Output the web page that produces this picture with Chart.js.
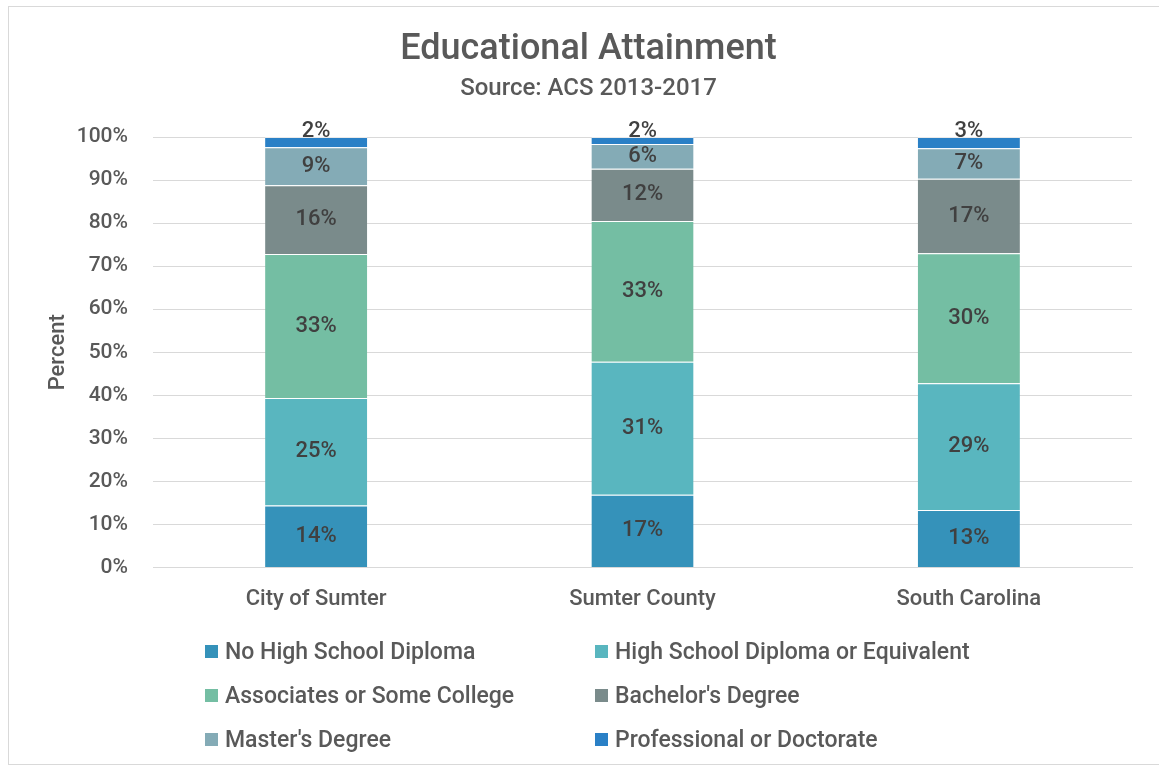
<!DOCTYPE html>
<html>
<head>
<meta charset="utf-8">
<script src="https://cdn.jsdelivr.net/npm/chart.js@4"></script>
<style>
  html, body { margin: 0; padding: 0; background: #fff; }
  #wrap { position: relative; width: 1159px; height: 770px; }
  #frame { position: absolute; left: 8px; top: 6px; width: 1160px; height: 759px; border: 1px solid #d9d9d9; box-sizing: border-box; pointer-events: none; }
  canvas { position: absolute; left: 0; top: 0; }
  #legend { position: absolute; left: 205px; top: 636px; font-family: Roboto, "Noto Sans", sans-serif; font-size: 23px; font-weight: 500; color: #595959; }
  .li { position: absolute; white-space: nowrap; display: flex; align-items: center; height: 30px; }
  .sw { width: 13px; height: 13px; margin-right: 7px; display: inline-block; }
</style>
</head>
<body>
<div id="wrap">
  <canvas id="c" width="1159" height="770"></canvas>
  <div id="frame"></div>
  <div id="legend"></div>
</div>
<script>
const categories = ["City of Sumter", "Sumter County", "South Carolina"];
const seriesNames = ["No High School Diploma", "High School Diploma or Equivalent", "Associates or Some College", "Bachelor's Degree", "Master's Degree", "Professional or Doctorate"];
const noHighSchool = [14.4, 16.9, 13.4];
const highSchool = [25.0, 30.9, 29.4];
const associates = [33.4, 32.7, 30.2];
const bachelors = [16.0, 12.1, 17.3];
const masters = [8.8, 5.8, 7.1];
const professional = [2.4, 1.6, 2.6];
const yTicks = [0, 10, 20, 30, 40, 50, 60, 70, 80, 90, 100];
const colors = ["#3592BA", "#59B6BF", "#74BEA3", "#7A8B8B", "#84ABB6", "#2A80C6"];

const seriesData = [noHighSchool, highSchool, associates, bachelors, masters, professional];
const FONT = 'Roboto, "Noto Sans", sans-serif';
const TXT = '#595959';

const labelPlugin = {
  id: 'segLabels',
  afterDatasetsDraw(chart) {
    const ctx = chart.ctx;
    ctx.save();
    ctx.font = '500 22px ' + FONT;
    ctx.fillStyle = '#404040';
    ctx.textAlign = 'center';
    ctx.textBaseline = 'middle';
    const last = chart.data.datasets.length - 1;
    chart.data.datasets.forEach((ds, di) => {
      const meta = chart.getDatasetMeta(di);
      meta.data.forEach((bar, i) => {
        const v = ds.data[i];
        const txt = Math.round(v) + '%';
        let y = (bar.y + bar.base) / 2;
        if (di === last) y = bar.y - 6;
        ctx.fillText(txt, bar.x, y);
      });
    });
    ctx.restore();
  }
};

const chart = new Chart(document.getElementById('c'), {
  type: 'bar',
  data: {
    labels: categories,
    datasets: seriesData.map((d, i) => ({
      label: seriesNames[i],
      data: d,
      backgroundColor: colors[i],
      borderColor: 'rgba(255,255,255,0.45)',
      borderWidth: { top: 1, bottom: 0, left: 0, right: 0 },
      borderSkipped: false,
      categoryPercentage: 1.0,
      barPercentage: 0.313
    }))
  },
  options: {
    responsive: false,
    animation: false,
    devicePixelRatio: 1,
    layout: { padding: { left: 45, right: 27, top: 0, bottom: 138 } },
    plugins: {
      legend: { display: false },
      tooltip: { enabled: false },
      title: {
        display: true,
        text: 'Educational Attainment',
        color: TXT,
        font: { family: FONT, size: 36, weight: '500' },
        padding: { top: 28, bottom: 0 }
      },
      subtitle: {
        display: true,
        text: 'Source: ACS 2013-2017',
        color: TXT,
        font: { family: FONT, size: 24, weight: '500' },
        padding: { top: 3, bottom: 34 }
      }
    },
    scales: {
      x: {
        stacked: true,
        grid: { display: false, drawTicks: false },
        border: { color: '#d9d9d9', width: 1 },
        ticks: { color: TXT, font: { family: FONT, size: 22, weight: '500' }, padding: 19 }
      },
      y: {
        stacked: true,
        min: 0,
        max: 100,
        afterBuildTicks(scale) { scale.ticks = yTicks.map(v => ({ value: v })); },
        afterFit(scale) { scale.width = 108; },
        grid: { color: '#d9d9d9', lineWidth: 1, drawTicks: false },
        border: { display: false },
        ticks: { color: TXT, font: { family: FONT, size: 21, weight: '500' }, padding: 25, callback: v => v + '%' },
        title: { display: true, text: 'Percent', color: TXT, font: { family: FONT, size: 22, weight: '500' }, padding: { top: 0, bottom: 0 } }
      }
    }
  },
  plugins: [labelPlugin]
});

// HTML legend in two columns built from the chart's datasets
const legend = document.getElementById('legend');
const items = chart.options.plugins.legend.labels.generateLabels(chart);
items.forEach((it, i) => {
  const col = i % 2, row = Math.floor(i / 2);
  const d = document.createElement('div');
  d.className = 'li';
  d.style.left = (col * 390) + 'px';
  d.style.top = (row * 44) + 'px';
  const sw = document.createElement('span');
  sw.className = 'sw';
  sw.style.background = it.fillStyle;
  d.appendChild(sw);
  d.appendChild(document.createTextNode(it.text));
  legend.appendChild(d);
});
</script>
</body>
</html>
